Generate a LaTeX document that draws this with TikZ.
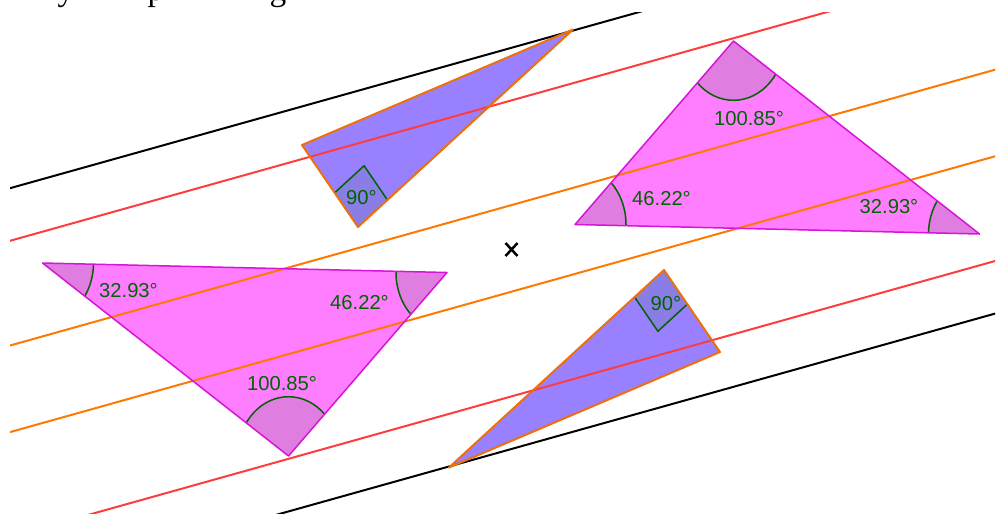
\documentclass[tikz,border=0pt]{standalone}
\usepackage{fontspec}
\newfontfamily\labelfont{Liberation Sans}
\newfontfamily\pagefont{Liberation Serif}
\definecolor{lineorange}{RGB}{255,120,0}
\definecolor{linered}{RGB}{255,60,60}
\definecolor{edgeorange}{RGB}{238,112,10}
\definecolor{edgemagenta}{RGB}{215,20,215}
\definecolor{pinkfill}{RGB}{255,125,255}
\definecolor{sectorfill}{RGB}{224,125,224}
\definecolor{bluefill}{RGB}{153,128,255}
\definecolor{squarefill}{RGB}{138,125,230}
\definecolor{anglegreen}{RGB}{0,100,0}
\usetikzlibrary{calc}
\pgfdeclarelayer{fills}
\pgfsetlayers{fills,main}

\tikzset{
  parline/.style={line width=0.04cm},
  angarc/.style={draw=anglegreen, line width=0.03cm},
  anglbl/.style={text=anglegreen, inner sep=0pt, font=\labelfont\fontsize{11.5}{13}\selectfont},
  cutglyph/.style={anchor=base, inner sep=0pt, font=\pagefont\fontsize{19}{22}\selectfont}
}

\begin{document}
\begin{tikzpicture}[x=0.02cm, y=-0.02cm]
\useasboundingbox (0,0) rectangle (1005,515);

% Cut-off text line above the figure
\begin{scope}
  \clip (0,0) rectangle (1005,515);
  \node[cutglyph] (gly) at (66,0.5) {y};
  \node[cutglyph] (glp) at (156,0.5) {p};
  \node[cutglyph] (glg) at (278,0.5) {g};
\end{scope}

% Parallel lines
\begin{scope}
  \clip (10,12) rectangle (995,513);
  \foreach \d/\c in {-200.6/black, -148/linered, -43.3/lineorange, 43.3/lineorange, 148/linered, 200.6/black}
    \draw[parline, \c] (0,{391.6+\d}) -- (1005,{110.2+\d});
\end{scope}

% Triangles and their half-turn images
\foreach \r in {0,180} {
\begin{scope}[rotate around={\r:(511,248.5)}]
  \coordinate (A) at (575,224.5);
  \coordinate (B) at (979.5,234);
  \coordinate (T) at (733.5,41);
  \begin{pgfonlayer}{fills}
    \fill[pinkfill] (A) -- (B) -- (T) -- cycle;
    \begin{scope}
      \clip (A) -- (B) -- (T) -- cycle;
      \foreach \v in {A,B,T}
        \fill[sectorfill] (\v) ellipse [x radius=51, y radius=59.3];
    \end{scope}
  \end{pgfonlayer}
  \begin{scope}
    \clip (A) -- (B) -- (T) -- cycle;
    \foreach \v in {A,B,T}
      \draw[angarc] (\v) ellipse [x radius=51, y radius=59.3];
  \end{scope}
  \draw[edgemagenta, line width=0.03cm, line join=round] (A) -- (B) -- (T) -- cycle;

  % right triangle
  \coordinate (V) at (358,227);
  \coordinate (L) at (302,145);
  \coordinate (R) at (573,29.5);
  \coordinate (Q1) at ($(V)!0.417!(L)$);
  \coordinate (Q2) at ($(V)!0.137!(R)$);
  \coordinate (Q3) at ($(Q1)+(Q2)-(V)$);
  \begin{pgfonlayer}{fills}
    \fill[bluefill] (V) -- (L) -- (R) -- cycle;
    \fill[squarefill] (V) -- (Q1) -- (Q3) -- (Q2) -- cycle;
  \end{pgfonlayer}
  \draw[angarc] (Q1) -- (Q3) -- (Q2);
  \draw[edgeorange, line width=0.04cm, line join=round] (V) -- (L) -- (R) -- cycle;
\end{scope}
}

% Angle labels
\node[anglbl] (topobt) at (749,119) {100.85°};
\node[anglbl] (topleft) at (661.5,198.5) {46.22°};
\node[anglbl] (topright) at (889,206.5) {32.93°};
\node[anglbl] (botleft) at (128.5,290.5) {32.93°};
\node[anglbl] (botright) at (359.5,303) {46.22°};
\node[anglbl] (botobt) at (282,383.5) {100.85°};
\node[anglbl] (rightup) at (361.5,197.5) {90°};
\node[anglbl] (rightdown) at (666,303.5) {90°};

% Centre of the half turn
\coordinate (ctr) at (511.5,249.5);
\draw[line width=0.05cm] (ctr) +(-6,-6.5) -- +(6,6.5) (ctr) +(-6,6.5) -- +(6,-6.5);
\end{tikzpicture}
\end{document}
